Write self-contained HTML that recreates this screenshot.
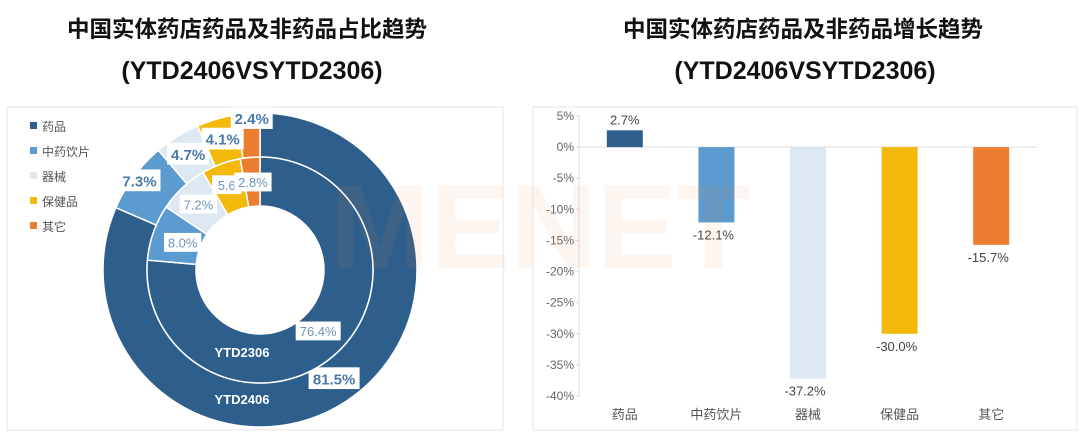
<!DOCTYPE html>
<html><head><meta charset="utf-8">
<style>
html,body{margin:0;padding:0;background:#fff;}
body{width:1080px;height:437px;overflow:hidden;font-family:"Liberation Sans","Noto Sans CJK SC",sans-serif;}
svg{display:block}
</style></head>
<body>
<svg id="root" width="1080" height="437" viewBox="0 0 1080 437" xmlns="http://www.w3.org/2000/svg">
<g font-family="'Liberation Sans','Noto Sans CJK SC',sans-serif" font-weight="bold" fill="#111" text-anchor="middle">
<text x="247" y="37" font-size="22.5">中国实体药店药品及非药品占比趋势</text>
<text x="252" y="79" font-size="25">(YTD2406VSYTD2306)</text>
<text x="803" y="37" font-size="22.5">中国实体药店药品及非药品增长趋势</text>
<text x="805" y="79" font-size="25">(YTD2406VSYTD2306)</text>
</g>
<rect x="7" y="107" width="496" height="323" fill="none" stroke="#e6e6e6"/>
<rect x="533" y="107" width="544" height="323" fill="none" stroke="#e6e6e6"/>
<g id="donut"></g>
<g id="bars"></g>
<text x="540" y="268" font-size="120" font-weight="bold" fill="#f08a3c" opacity="0.08" text-anchor="middle" font-family="'Liberation Sans',sans-serif">MENET</text>
</svg>
<script>
const categories = ["药品","中药饮片","器械","保健品","其它"];
const colors = ["#2e5f8c","#5b9bd0","#dde8f3","#f2b90a","#ec7d31"];
const share2306 = [76.4, 8.0, 7.2, 5.6, 2.8];
const share2406 = [81.5, 7.3, 4.7, 4.1, 2.4];
const shareLabels2306 = ["76.4%","8.0%","7.2%","5.6","2.8%"];
const shareLabels2406 = ["81.5%","7.3%","4.7%","4.1%","2.4%"];
const growth = [2.7, -12.1, -37.2, -30.0, -15.7];
const yTicks = [5,0,-5,-10,-15,-20,-25,-30,-35,-40];

const NS="http://www.w3.org/2000/svg";
function mk(tag, attrs, parent){const e=document.createElementNS(NS,tag);for(const k in attrs)e.setAttribute(k,attrs[k]);parent.appendChild(e);return e;}

const dg=document.getElementById('donut');
const cx=260, cy=270;
function pt(r,a){return [cx+r*Math.sin(a), cy-r*Math.cos(a)];}
function arc(r0,r1,a0,a1){
  const large=(a1-a0)>Math.PI?1:0;
  const [x0,y0]=pt(r1,a0),[x1,y1]=pt(r1,a1),[x2,y2]=pt(r0,a1),[x3,y3]=pt(r0,a0);
  return `M${x0},${y0}A${r1},${r1} 0 ${large} 1 ${x1},${y1}L${x2},${y2}A${r0},${r0} 0 ${large} 0 ${x3},${y3}Z`;
}
function ring(vals,r0,r1,labels,ringName,bold,labelR,off,col){
  const tot=vals.reduce((a,b)=>a+b,0);let a=0;
  vals.forEach((v,i)=>{
    const a0=a, a1=a+v/tot*2*Math.PI; a=a1;
    const p=mk('path',{d:arc(r0,r1,a0,a1),fill:colors[i],stroke:'#fff','stroke-width':1.5},dg);
    
    
  });
  a=0;
  vals.forEach((v,i)=>{
    const a0=a,a1=a+v/tot*2*Math.PI;a=a1;
    const mid=(a0+a1)/2;
    let [lx,ly]=pt(labelR[i],mid);
    lx+=off[i][0]; ly+=off[i][1];
    const fs=bold?15:13; const w=labels[i].length*fs*0.6+6;
    const b=mk('rect',{x:lx-w/2,y:ly-fs*0.75,width:w,height:fs*1.45,fill:'#fff'},dg);
    
    
    const t=mk('text',{x:lx,y:ly+fs*0.38,'font-size':fs,'font-weight':bold?'bold':'normal',fill:col,'text-anchor':'middle'},dg);
    t.textContent=labels[i];
    
    
  });
}
ring(share2406,113,157,shareLabels2406,'ytd2406',true,[155,150,140,128,150],[[-11,-21],[0,0],[2,3],[-2,-8],[3,-2]],'#4a7aa8');
ring(share2306,64,113,shareLabels2306,'ytd2306',false,[98,82,90,82,80],[[-8,-11],[0,0],[0,0],[-5,-8],[0,-8]],'#6f93b8');
const n1=mk('text',{x:242,y:357,'font-size':13,'font-weight':'bold',fill:'#fff','text-anchor':'middle'},dg);n1.textContent='YTD2306';


const n2=mk('text',{x:242,y:404,'font-size':13,'font-weight':'bold',fill:'#fff','text-anchor':'middle'},dg);n2.textContent='YTD2406';


categories.forEach((c,i)=>{
  const y=127+i*25;
  const r=mk('rect',{x:30,y:y-5,width:7,height:7,fill:colors[i]},dg);
  
  
  const t=mk('text',{x:42,y:y+4,'font-size':12,fill:'#555'},dg);t.textContent=c;
  
  
});

const bg=document.getElementById('bars');
const axX=579, plotR=1037, yMax=5, yMin=-40, yTop=116, yBot=396;
function Y(v){return yTop+(yMax-v)/(yMax-yMin)*(yBot-yTop);}
const band=(plotR-axX)/categories.length;
function Xc(i){return axX+band*(i+0.5);}
yTicks.forEach(v=>{
  const t=mk('text',{x:574,y:Y(v)+4,'font-size':12,fill:'#666','text-anchor':'end'},bg);t.textContent=v+'%';
  
  
  const l=mk('line',{x1:axX-3,x2:axX,y1:Y(v),y2:Y(v),stroke:'#ddd'},bg);
  
  
});
const ax=mk('line',{x1:axX,x2:axX,y1:Y(yMax),y2:Y(yMin),stroke:'#ddd'},bg);


const zl=mk('line',{x1:axX,x2:plotR,y1:Y(0),y2:Y(0),stroke:'#ddd'},bg);


const bw=36;
growth.forEach((v,i)=>{
  const y0=Math.min(Y(0),Y(v)), h=Math.abs(Y(v)-Y(0));
  const r=mk('rect',{x:Xc(i)-bw/2,y:y0,width:bw,height:h,fill:colors[i]},bg);
  
  
  const ly=v>=0?Y(v)-6:Y(v)+17;
  const t=mk('text',{x:Xc(i)-(v<0?3:0),y:ly,'font-size':13,fill:'#444','text-anchor':'middle'},bg);
  t.textContent=v.toFixed(1)+'%';
  
  
  const c=mk('text',{x:Xc(i),y:419,'font-size':13,fill:'#555','text-anchor':'middle'},bg);c.textContent=categories[i];
  
  
});
</script>
</body></html>
